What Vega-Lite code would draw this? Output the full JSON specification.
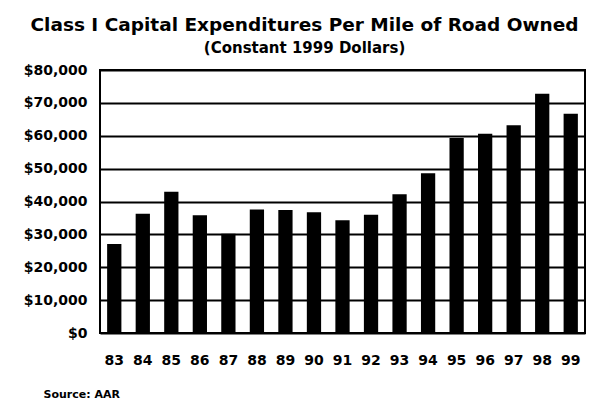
{
  "$schema": "https://vega.github.io/schema/vega-lite/v6.json",
  "autosize": {"type": "none"},
  "width": 485,
  "height": 263,
  "padding": {"left": 100, "top": 70, "right": 5, "bottom": 68},
  "background": "white",
  "title": {
    "text": "Class I Capital Expenditures Per Mile of Road Owned",
    "subtitle": "(Constant 1999 Dollars)",
    "anchor": "middle",
    "frame": "group",
    "dx": -38,
    "offset": 7,
    "font": "DejaVu Sans",
    "fontSize": 18.5,
    "fontWeight": "bold",
    "color": "black",
    "subtitleFont": "DejaVu Sans",
    "subtitleFontSize": 15,
    "subtitleFontWeight": "bold",
    "subtitleColor": "black",
    "subtitlePadding": 7
  },
  "data": {
    "values": [
      {"year": "83", "value": 27100},
      {"year": "84", "value": 36300},
      {"year": "85", "value": 43000},
      {"year": "86", "value": 35800},
      {"year": "87", "value": 30200},
      {"year": "88", "value": 37600},
      {"year": "89", "value": 37400},
      {"year": "90", "value": 36700},
      {"year": "91", "value": 34300},
      {"year": "92", "value": 36000},
      {"year": "93", "value": 42200},
      {"year": "94", "value": 48600},
      {"year": "95", "value": 59300},
      {"year": "96", "value": 60600},
      {"year": "97", "value": 63200},
      {"year": "98", "value": 72800},
      {"year": "99", "value": 66700}
    ]
  },
  "mark": {"type": "bar", "color": "black"},
  "encoding": {
    "x": {
      "field": "year",
      "type": "ordinal",
      "sort": null,
      "scale": {"paddingInner": 0.5, "paddingOuter": 0.25},
      "axis": {
        "title": "Source: AAR",
        "titleFont": "DejaVu Sans",
        "titleFontSize": 11,
        "titleFontWeight": "bold",
        "titleColor": "black",
        "titleAnchor": "start",
        "titleAlign": "left",
        "titleBaseline": "alphabetic",
        "titleX": -57,
        "titleY": 64,
        "labelAngle": 0,
        "labelFont": "DejaVu Sans",
        "labelFontSize": 14,
        "labelFontWeight": "bold",
        "labelColor": "black",
        "labelPadding": 20,
        "ticks": false,
        "domain": false
      }
    },
    "y": {
      "field": "value",
      "type": "quantitative",
      "scale": {"domain": [0, 80000], "nice": false},
      "axis": {
        "title": null,
        "values": [0, 10000, 20000, 30000, 40000, 50000, 60000, 70000, 80000],
        "format": "$,d",
        "labelFont": "DejaVu Sans",
        "labelFontSize": 14,
        "labelFontWeight": "bold",
        "labelColor": "black",
        "labelPadding": 13,
        "ticks": false,
        "domain": false,
        "grid": true,
        "gridColor": "black",
        "gridWidth": 2,
        "gridOpacity": 1
      }
    }
  },
  "config": {
    "view": {"stroke": "black", "strokeWidth": 2}
  }
}
